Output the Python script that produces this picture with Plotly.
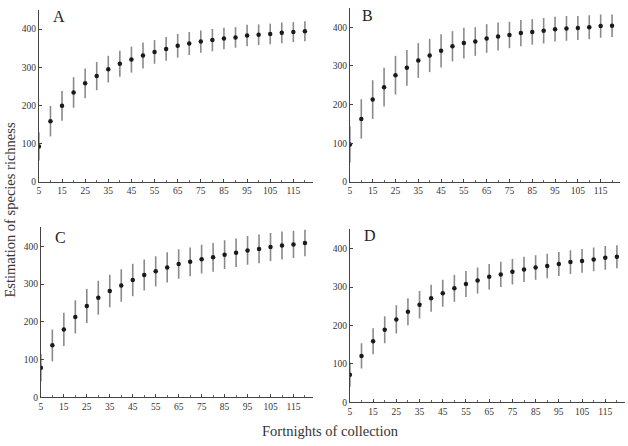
import plotly.graph_objects as go

W, H = 628, 446

fortnights = [5, 10, 15, 20, 25, 30, 35, 40, 45, 50, 55, 60, 65, 70, 75, 80, 85, 90, 95, 100, 105, 110, 115, 120]

rich_A = [93, 159, 199, 234, 258, 277, 295, 309, 320, 331, 340, 348, 356, 362, 367, 371, 375, 378, 383, 385, 387, 390, 392, 394]
err_A = [37, 40, 39, 40, 39, 37, 35, 34, 34, 34, 31, 31, 31, 30, 29, 29, 28, 27, 28, 27, 27, 27, 26, 26]

rich_B = [97, 163, 213, 245, 276, 295, 314, 327, 339, 351, 359, 363, 371, 376, 380, 385, 388, 391, 395, 397, 398, 400, 403, 404]
err_B = [47, 51, 50, 50, 50, 46, 45, 43, 43, 39, 40, 37, 37, 36, 34, 34, 33, 33, 32, 32, 31, 31, 30, 29]

rich_C = [79, 138, 180, 213, 242, 264, 282, 296, 311, 324, 334, 344, 353, 359, 366, 371, 378, 383, 389, 393, 398, 402, 405, 409]
err_C = [36, 42, 44, 44, 45, 45, 43, 43, 43, 41, 40, 40, 39, 38, 38, 38, 38, 38, 38, 38, 37, 37, 36, 35]

rich_D = [72, 121, 159, 189, 216, 236, 254, 271, 284, 297, 308, 317, 327, 333, 340, 346, 351, 355, 360, 365, 368, 372, 376, 379]
err_D = [32, 33, 34, 35, 37, 35, 36, 35, 35, 35, 34, 34, 33, 33, 33, 33, 32, 32, 31, 31, 31, 31, 31, 30]

panel_labels = ["A", "B", "C", "D"]
x_tick_vals = [5, 15, 25, 35, 45, 55, 65, 75, 85, 95, 105, 115]
y_tick_vals = [0, 100, 200, 300, 400]

# pixel boxes: (left, right, top, bottom)
boxes = [(37, 312, 10, 184), (349, 620, 8, 184), (39, 312, 230, 402), (349, 625, 232, 407)]
label_pos = [(57, 17), (367, 16), (59, 240), (369, 238)]

series = [(rich_A, err_A), (rich_B, err_B), (rich_C, err_C), (rich_D, err_D)]

fig = go.Figure()
serif = "Liberation Serif, Times New Roman, serif"
layout = dict(width=W, height=H, margin=dict(l=0, r=0, t=0, b=0),
              paper_bgcolor="white", plot_bgcolor="white", showlegend=False,
              font=dict(family=serif, color="#333"))

annotations = []
for i, ((vals, errs), (l, r, t, b)) in enumerate(zip(series, boxes)):
    xa = "x" if i == 0 else f"x{i+1}"
    ya = "y" if i == 0 else f"y{i+1}"
    fig.add_trace(go.Scatter(
        x=fortnights, y=vals, mode="markers", xaxis=xa, yaxis=ya,
        marker=dict(color="#1a1a1a", size=4.5, symbol="circle"),
        error_y=dict(type="data", array=errs, visible=True, color="#8a8a8a", thickness=1.6, width=0),
    ))
    xkey = "xaxis" if i == 0 else f"xaxis{i+1}"
    ykey = "yaxis" if i == 0 else f"yaxis{i+1}"
    layout[xkey] = dict(domain=[l / W, r / W], anchor=ya, range=[5, 123.5],
                        tickmode="array", tickvals=x_tick_vals, ticks="inside", ticklen=3,
                        tickcolor="#444", showline=True, linecolor="#444", linewidth=1,
                        showgrid=False, zeroline=False, tickfont=dict(size=9.5, family=serif, color="#333"),
                        minor=dict(dtick=5, tick0=0, ticks="inside", ticklen=2, tickcolor="#666"),
                        fixedrange=True)
    layout[ykey] = dict(domain=[1 - b / H, 1 - t / H], anchor=xa, range=[0, 450],
                        tickmode="array", tickvals=y_tick_vals, ticks="inside", ticklen=3,
                        tickcolor="#444", showline=True, linecolor="#444", linewidth=1,
                        showgrid=False, zeroline=False, tickfont=dict(size=9.5, family=serif, color="#333"),
                        fixedrange=True)
    lx, ly = label_pos[i]
    annotations.append(dict(text=panel_labels[i], x=lx / W, y=1 - ly / H, xref="paper", yref="paper",
                            showarrow=False, font=dict(size=16, family=serif, color="#222"),
                            xanchor="center", yanchor="middle"))

annotations.append(dict(text="Estimation of species richness", x=8 / W, y=1 - 212 / H,
                        xref="paper", yref="paper", showarrow=False, textangle=-90,
                        font=dict(size=14.5, family=serif, color="#333"), xanchor="center", yanchor="middle"))
annotations.append(dict(text="Fortnights of collection", x=330 / W, y=0,
                        xref="paper", yref="paper", showarrow=False,
                        font=dict(size=14.5, family=serif, color="#333"), xanchor="center", yanchor="bottom"))

layout["annotations"] = annotations
fig.update_layout(**layout)
fig.write_html("out.html")
